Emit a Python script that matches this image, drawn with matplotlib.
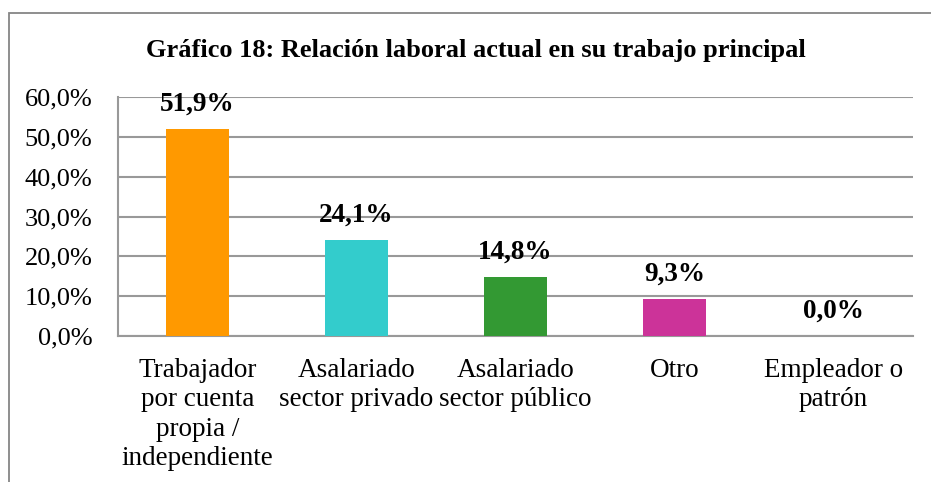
import matplotlib
matplotlib.use("Agg")
import matplotlib.pyplot as plt
from matplotlib.patches import Rectangle

categories = ["Trabajador\npor cuenta\npropia /\nindependiente",
              "Asalariado\nsector privado",
              "Asalariado\nsector público",
              "Otro",
              "Empleador o\npatrón"]
values = [51.9, 24.1, 14.8, 9.3, 0.0]
colors = ["#FF9900", "#33CCCC", "#339933", "#CC3399", "#3366CC"]
yticks = [0, 10, 20, 30, 40, 50, 60]
title = "Gráfico 18: Relación laboral actual en su trabajo principal"

plt.rcParams['font.family'] = ['Liberation Serif', 'DejaVu Serif']

W, H = 931, 482
fig = plt.figure(figsize=(W/100, H/100), dpi=100)

# outer chart frame (left/top visible)
fig.patches.append(Rectangle((9/W, -0.1), 1.2, (H-13)/H + 0.1, transform=fig.transFigure,
                             fill=False, edgecolor="#868686", linewidth=1.3))

ax = fig.add_axes([118/W, 1-336/H, (913-118)/W, (336-97)/H])
x = range(len(categories))
ax.bar(x, values, width=0.40, color=colors, zorder=3)
ax.set_xlim(-0.5, len(categories)-0.5)
ax.set_ylim(0, 60)
ax.set_yticks(yticks)
ax.set_yticklabels([f"{v:.1f}%".replace(".", ",") for v in yticks], fontsize=19)
ax.set_xticks(list(x))
ax.set_xticklabels(categories, fontsize=19.5, linespacing=1.22)
ax.tick_params(axis="y", length=0, pad=18.5)
ax.tick_params(axis="x", length=0, pad=16)
ax.grid(axis="y", color="#999999", linewidth=1.5, zorder=0)
for s in ["top", "right"]:
    ax.spines[s].set_visible(False)
for s in ["left", "bottom"]:
    ax.spines[s].set_color("#999999")
    ax.spines[s].set_linewidth(1.5)

for xi, v in zip(x, values):
    ax.annotate(f"{v:.1f}%".replace(".", ","), (xi, v), xytext=(0, 9),
                textcoords="offset points", ha="center", va="bottom",
                fontsize=19.5, fontweight="bold")

fig.text(476/W, 1-50/H, title, ha="center", va="center",
         fontsize=19, fontweight="bold")

fig.savefig("out.png", dpi=100)
